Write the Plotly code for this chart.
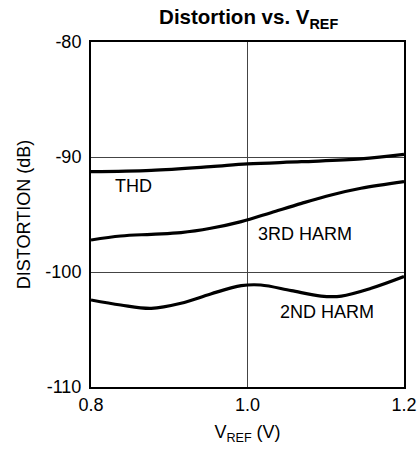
import plotly.graph_objects as go

vref_thd = [0.800, 0.877, 0.953, 1.000, 1.069, 1.145, 1.200]
thd = [-91.27, -91.16, -90.84, -90.60, -90.41, -90.17, -89.77]

vref_h3 = [0.800, 0.838, 0.877, 0.915, 0.953, 0.992, 1.030, 1.069, 1.107, 1.145, 1.200]
harm3 = [-97.22, -96.87, -96.72, -96.58, -96.20, -95.62, -94.84, -94.03, -93.30, -92.72, -92.14]

vref_h2 = [0.800, 0.838, 0.877, 0.915, 0.953, 0.992, 1.017, 1.056, 1.094, 1.120, 1.158, 1.200]
harm2 = [-102.43, -102.87, -103.16, -102.72, -101.91, -101.19, -101.13, -101.62, -102.09, -102.09, -101.42, -100.40]

labels = ["THD", "3RD HARM", "2ND HARM"]
label_x = [0.854, 1.074, 1.102]
label_y = [-92.5, -96.7, -103.5]

FONT = "Liberation Sans, Arial, sans-serif"

fig = go.Figure()
for xs, ys in ((vref_thd, thd), (vref_h3, harm3), (vref_h2, harm2)):
    fig.add_trace(go.Scatter(x=xs, y=ys, mode="lines",
                             line=dict(color="black", width=3.2, shape="spline", smoothing=1.0),
                             showlegend=False, hoverinfo="skip"))

for t, lx, ly in zip(labels, label_x, label_y):
    fig.add_annotation(x=lx, y=ly, text=t, showarrow=False,
                       font=dict(family=FONT, size=18, color="black"))

fig.update_layout(
    width=420, height=451, autosize=False,
    margin=dict(l=91, r=16, t=42, b=64, autoexpand=False),
    paper_bgcolor="white", plot_bgcolor="white",
    font=dict(family=FONT, size=18, color="black"),
    title=dict(text="<b>Distortion vs. V<sub>REF</sub></b>", x=0.592, xanchor="center",
               y=0.962, yanchor="middle", font=dict(size=20.5)),
)
fig.update_xaxes(range=[0.8, 1.2], tickvals=[0.8, 1.0, 1.2], ticktext=["0.8", "1.0", "1.2"],
                 automargin=False,
                 showgrid=True, gridcolor="#444", gridwidth=1,
                 showline=True, linecolor="black", linewidth=2, mirror=True,
                 ticks="", zeroline=False, tickfont=dict(size=18),
                 title=dict(text="V<sub>REF</sub> (V)", standoff=12, font=dict(size=18)))
fig.update_yaxes(range=[-110, -80], tickvals=[-110, -100, -90, -80],
                 ticktext=["-110", "-100", "-90", "-80"],
                 automargin=False, ticklabelstandoff=4,
                 showgrid=True, gridcolor="#444", gridwidth=1,
                 showline=True, linecolor="black", linewidth=2, mirror=True,
                 ticks="", zeroline=False, tickfont=dict(size=18),
                 title=dict(text="DISTORTION (dB)", standoff=10, font=dict(size=18)))

fig.write_html("out.html",
               config={"displayModeBar": False, "responsive": False},
               post_script="document.body.style.margin='0';document.body.style.overflow='hidden';")
